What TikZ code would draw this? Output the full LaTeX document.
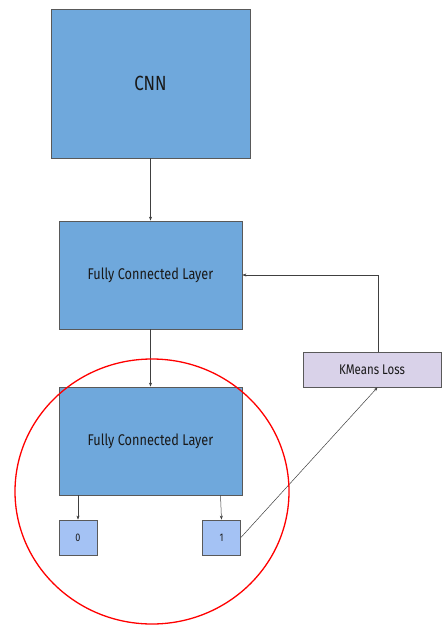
\documentclass[tikz,border=0pt]{standalone}
\usepackage{fontspec}
\setmainfont{Fira Sans}[FakeStretch=0.82]
\usetikzlibrary{arrows.meta}
\definecolor{layerblue}{HTML}{6FA8DC}
\definecolor{outblue}{HTML}{A4C2F4}
\definecolor{losslilac}{HTML}{D9D2E9}
\definecolor{edgegrey}{HTML}{595959}
\tikzset{
  box/.style={draw=edgegrey, line width=0.8pt, inner sep=0pt, anchor=center, text=black!90},
  layer/.style={box, fill=layerblue, minimum width=183pt, minimum height=108pt, font=\fontsize{15.5}{18}\selectfont},
  outbox/.style={box, fill=outblue, minimum width=38pt, minimum height=35pt, font=\fontsize{11}{13}\selectfont},
  lossbox/.style={box, fill=losslilac, minimum width=138pt, minimum height=35pt, font=\fontsize{14}{16}\selectfont},
  link/.style={draw=black!75, line width=0.5pt, -{Stealth[length=4pt,width=3pt]}}
}
\begin{document}
\begin{tikzpicture}[x=1pt,y=-1pt]
  \useasboundingbox (0,0) rectangle (444,625);
  \node[layer, minimum width=199pt, minimum height=149pt, font=\fontsize{20.5}{24}\selectfont] (cnn) at (150.5,83.5) {CNN};
  \node[layer] (fc1) at (150.5,275) {Fully Connected Layer};
  \node[layer] (fc2) at (150.5,441) {Fully Connected Layer};
  \node[outbox] (o0) at (78,537.5) {0};
  \node[outbox] (o1) at (221.5,537.5) {1};
  \node[lossbox] (loss) at (372,369.5) {KMeans Loss};
  \draw[link] (cnn.south) -- (fc1.north);
  \draw[link] (fc1.south) -- (fc2.north);
  \draw[link] (fc2.south -| o0.north) -- (o0.north);
  \draw[link] ([xshift=-1pt]fc2.south -| o1.north) -- (o1.north);
  \draw[link] (o1.east) -- ([xshift=5.5pt]loss.south);
  \draw[link] ([xshift=6pt]loss.north) |- (fc1.east);
  \draw[red, line width=1.3pt] (152,491.5) ellipse [x radius=137, y radius=132.5];
\end{tikzpicture}
\end{document}
